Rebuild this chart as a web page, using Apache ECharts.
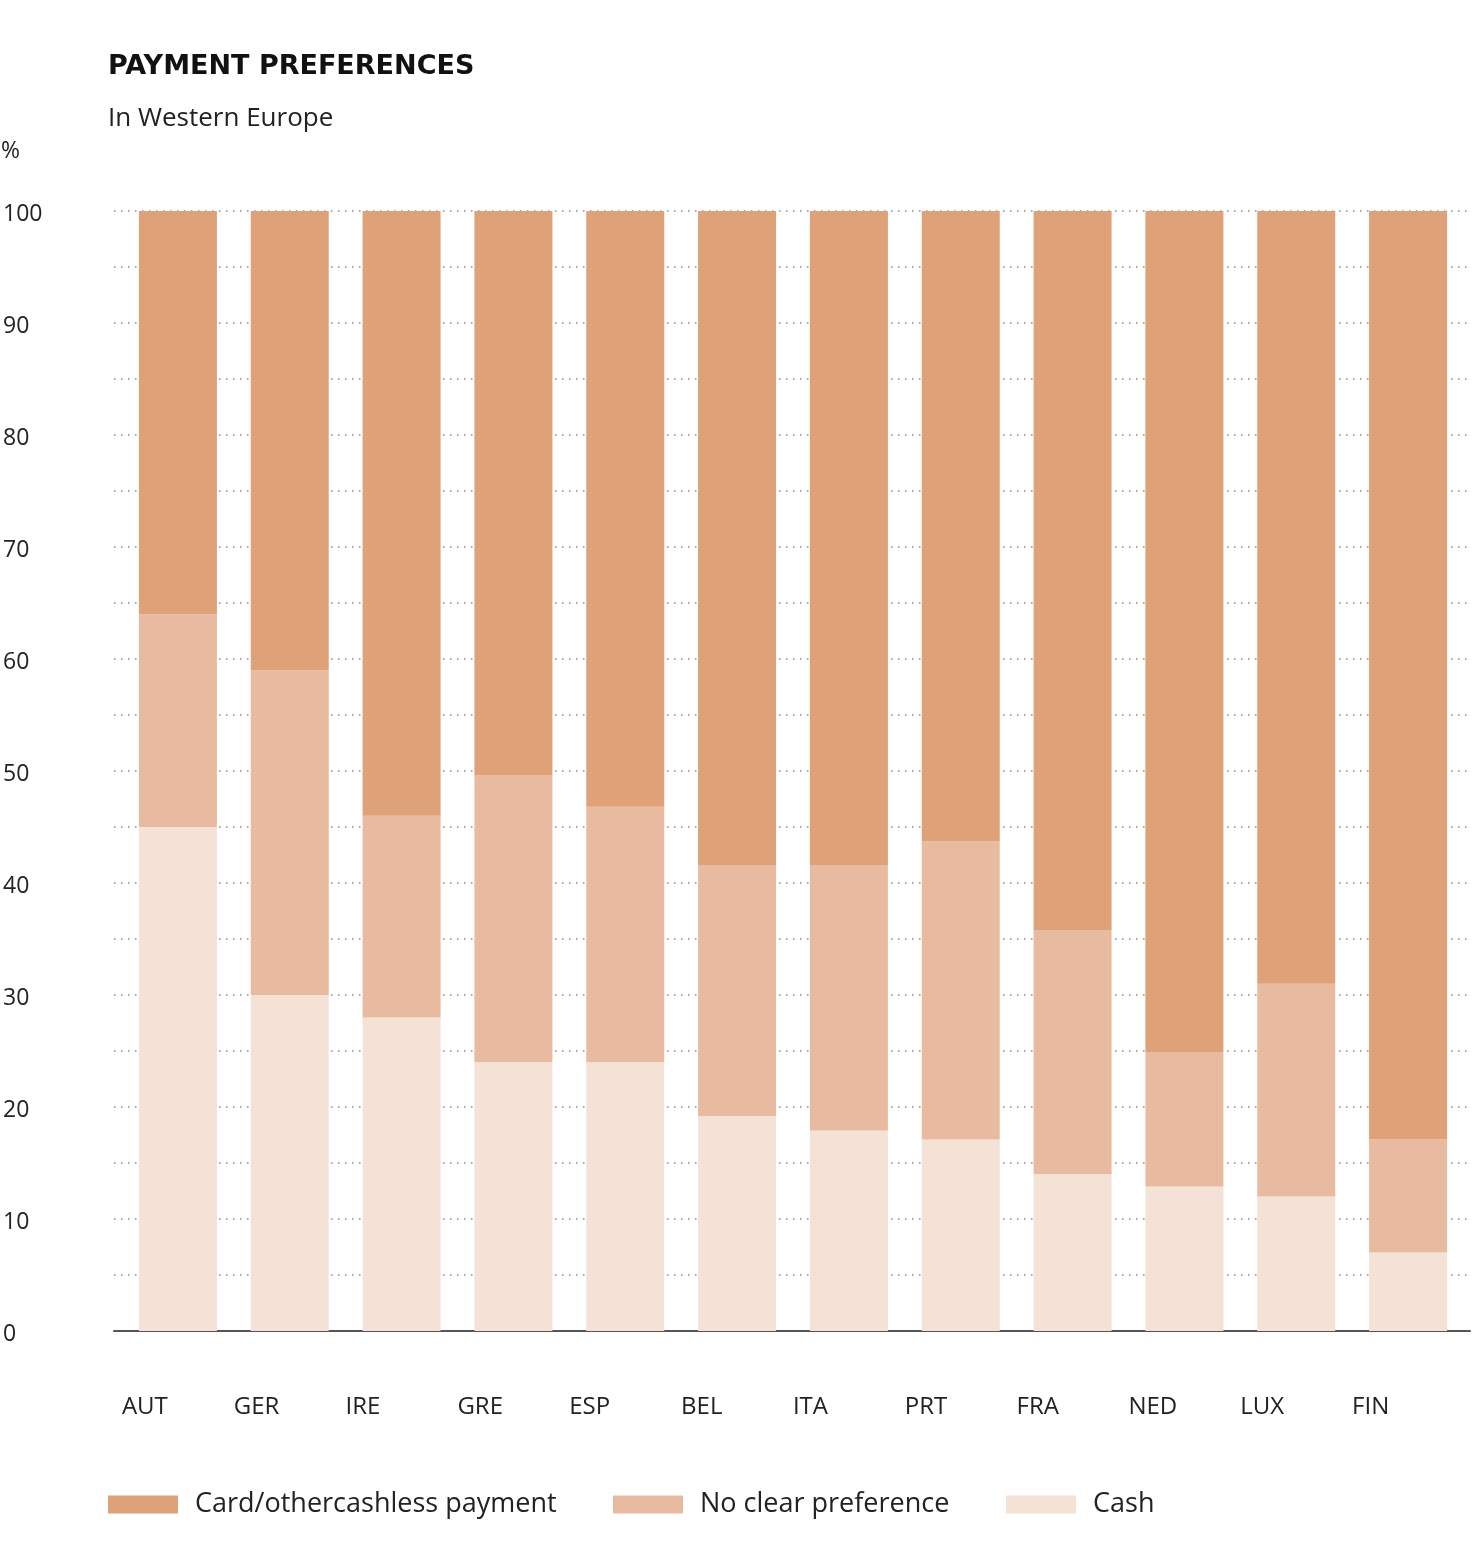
<!DOCTYPE html>
<html><head><meta charset="utf-8">
<script src="https://cdn.jsdelivr.net/npm/echarts@6/dist/echarts.min.js"></script>
<style>html,body{margin:0;padding:0;background:#fff}#c{width:1476px;height:1565px}</style>
</head><body><div id="c"></div>
<script>
const categories = ['AUT','GER','IRE','GRE','ESP','BEL','ITA','PRT','FRA','NED','LUX','FIN'];
const cash = [45, 30, 28, 24, 24, 19.2, 17.9, 17.1, 14, 12.9, 12, 7];
const noPref = [19, 29, 18, 25.6, 22.8, 22.4, 23.7, 26.6, 21.8, 12, 19, 10.1];
const card = [36, 41, 54, 50.4, 53.2, 58.4, 58.4, 56.3, 64.2, 75.1, 69, 82.9];
const seriesNames = ['Card/othercashless payment', 'No clear preference', 'Cash'];
const colors = {card: '#DFA178', noPref: '#E8BBA0', cash: '#F4E2D6'};
const FONT = 'Open Sans';

const chart = echarts.init(document.getElementById('c'), null, {renderer: 'canvas'});
const legendCommon = {
  top: 1491, itemWidth: 70, itemHeight: 18, itemGap: 50, padding: 0,
  icon: 'rect',
  textStyle: {fontFamily: FONT, fontSize: 27, color: '#222', padding: [0, 0, 0, 12]},
  selectedMode: false
};
chart.setOption({
  animation: false,
  title: [
    {text: 'PAYMENT PREFERENCES', left: 108, top: 53, padding: 0,
     textStyle: {fontFamily: 'DejaVu Sans', fontWeight: 'bold', fontSize: 27, color: '#111'}},
    {text: 'In Western Europe', left: 108, top: 106, padding: 0,
     textStyle: {fontFamily: FONT, fontWeight: 'normal', fontSize: 26, color: '#222'}},
    {text: '%', left: 1, top: 140, padding: 0,
     textStyle: {fontFamily: FONT, fontWeight: 'normal', fontSize: 23, color: '#222'}}
  ],
  legend: [
    Object.assign({}, legendCommon, {left: 108, data: [seriesNames[0]]}),
    Object.assign({}, legendCommon, {left: 613, data: [seriesNames[1]]}),
    Object.assign({}, legendCommon, {left: 1006, data: [seriesNames[2]]})
  ],
  grid: [
    {left: 110, right: 6, top: 211, bottom: 234},
    {left: 122, right: 12, top: 211, bottom: 234}
  ],
  xAxis: [
    {type: 'category', gridIndex: 0, data: categories,
     axisLine: {show: true, lineStyle: {color: '#555', width: 2}},
     axisTick: {show: false}, axisLabel: {show: false}, splitLine: {show: false}},
    {type: 'category', gridIndex: 1, data: categories,
     axisLine: {show: false}, axisTick: {show: false},
     axisLabel: {interval: 0, margin: 64, fontFamily: FONT, fontSize: 24, color: '#222',
       formatter: v => '{a|' + v + '}',
       rich: {a: {width: 112, align: 'left', fontFamily: FONT, fontSize: 24, color: '#222'}}}}
  ],
  yAxis: [
    {type: 'value', gridIndex: 0, min: 0, max: 100, interval: 5,
     axisLine: {show: false}, axisTick: {show: false},
     axisLabel: {align: 'left', margin: 111, fontFamily: FONT, fontSize: 23, color: '#222',
       verticalAlign: 'top', lineHeight: 6,
       formatter: v => (v % 10 === 0 ? String(v) : '')},
     splitLine: {show: true, lineStyle: {color: '#8a8a8a', width: 1.5, type: [1.5, 5.5]}}},
    {type: 'value', gridIndex: 1, min: 0, max: 100, interval: 5,
     axisLine: {show: false}, axisTick: {show: false}, axisLabel: {show: false},
     splitLine: {show: false}}
  ],
  series: [
    {name: seriesNames[2], type: 'bar', stack: 's', xAxisIndex: 1, yAxisIndex: 1,
     barWidth: 78, data: cash, itemStyle: {color: colors.cash}},
    {name: seriesNames[1], type: 'bar', stack: 's', xAxisIndex: 1, yAxisIndex: 1,
     barWidth: 78, data: noPref, itemStyle: {color: colors.noPref}},
    {name: seriesNames[0], type: 'bar', stack: 's', xAxisIndex: 1, yAxisIndex: 1,
     barWidth: 78, data: card, itemStyle: {color: colors.card}}
  ]
});
</script></body></html>
